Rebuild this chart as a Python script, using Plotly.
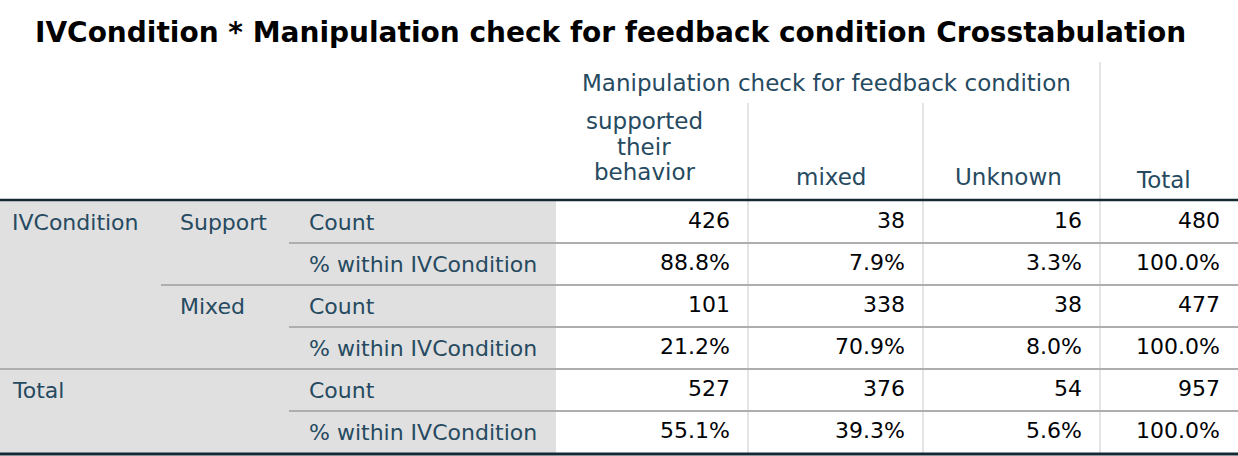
import plotly.graph_objects as go

# table content
title = "IVCondition * Manipulation check for feedback condition Crosstabulation"
col_group = "Manipulation check for feedback condition"
col_names = ["supported<br>their<br>behavior", "mixed", "Unknown", "Total"]
row_groups = ["IVCondition", "Total"]
row_levels = ["Support", "Mixed"]
stat_names = ["Count", "% within IVCondition"]

support_count = [426, 38, 16, 480]
support_pct = [88.8, 7.9, 3.3, 100.0]
mixed_count = [101, 338, 38, 477]
mixed_pct = [21.2, 70.9, 8.0, 100.0]
total_count = [527, 376, 54, 957]
total_pct = [55.1, 39.3, 5.6, 100.0]

W, H = 1238, 456
TXT = "#264a60"
DARK = "#152935"
GRID = "#aeaeae"
VLINE = "#dcdcdc"
FONT = "DejaVu Sans"
FS = 22
HFS = 23

# geometry (pixel coords, y down)
col_edges = [556, 748, 923, 1100, 1238]
row_top = 201
row_h = 42

fig = go.Figure()

shapes = []
# grey label block
shapes.append(dict(type="rect", x0=0, x1=col_edges[0], y0=row_top, y1=row_top + 6 * row_h,
                   fillcolor="#e0e0e0", line=dict(width=0), layer="below"))
# vertical lines in data area / header
for x in col_edges[1:-1]:
    y0 = 62 if x == col_edges[3] else 103
    shapes.append(dict(type="line", x0=x, x1=x, y0=y0, y1=row_top + 6 * row_h,
                       line=dict(color=VLINE, width=1.5), layer="below"))
# horizontal separators
seps = [row_top + k * row_h for k in range(1, 6)]
starts = [289, 161, 289, 0, 289]
for y, x0 in zip(seps, starts):
    shapes.append(dict(type="line", x0=x0, x1=W, y0=y, y1=y,
                       line=dict(color=GRID, width=2)))
# thick lines
shapes.append(dict(type="line", x0=0, x1=W, y0=row_top - 1, y1=row_top - 1,
                   line=dict(color=DARK, width=2.5)))
shapes.append(dict(type="line", x0=0, x1=W, y0=H - 2, y1=H - 2,
                   line=dict(color=DARK, width=3)))

ann = []
ann.append(dict(x=610, y=32, text="<b>" + title + "</b>", showarrow=False,
                font=dict(family=FONT, size=28, color="#000000"), xanchor="center", yanchor="middle"))
ann.append(dict(x=580, y=83, text=col_group, showarrow=False,
                font=dict(family=FONT, size=HFS, color=TXT), xanchor="left", yanchor="middle"))
head_x = [644, 831, 1008, 1163]
head_y = [172, 177, 177, 180]
for x, yb, name in zip(head_x, head_y, col_names):
    parts = name.split("<br>")
    for i, part in enumerate(parts):
        ann.append(dict(x=x, y=yb - (len(parts) - 1 - i) * 25.5, text=part, showarrow=False,
                        font=dict(family=FONT, size=HFS, color=TXT),
                        xanchor="center", yanchor="middle"))

def row_y(k):
    return row_top + k * row_h + row_h / 2

ann.append(dict(x=10, y=row_y(0), text=row_groups[0], showarrow=False,
                font=dict(family=FONT, size=FS, color=TXT), xanchor="left", yanchor="middle"))
ann.append(dict(x=10, y=row_y(4), text=row_groups[1], showarrow=False,
                font=dict(family=FONT, size=FS, color=TXT), xanchor="left", yanchor="middle"))
for j, lev in enumerate(row_levels):
    ann.append(dict(x=178, y=row_y(2 * j), text=lev, showarrow=False,
                    font=dict(family=FONT, size=FS, color=TXT), xanchor="left", yanchor="middle"))
for k in range(6):
    ann.append(dict(x=307, y=row_y(k), text=stat_names[k % 2], showarrow=False,
                    font=dict(family=FONT, size=FS, color=TXT), xanchor="left", yanchor="middle"))

# values as a text trace
rows = [support_count, support_pct, mixed_count, mixed_pct, total_count, total_pct]
xs, ys, txt = [], [], []
for k, vals in enumerate(rows):
    for c, v in enumerate(vals):
        xs.append(col_edges[c + 1] - 18)
        ys.append(row_y(k))
        txt.append(f"{v}" if k % 2 == 0 else f"{v:.1f}%")

fig.add_trace(go.Scatter(x=xs, y=ys, text=txt, mode="text", textposition="middle left",
                         textfont=dict(family=FONT, size=FS, color="#010205"),
                         hoverinfo="skip", showlegend=False))

fig.update_layout(
    width=W, height=H,
    margin=dict(l=0, r=0, t=0, b=0),
    paper_bgcolor="white", plot_bgcolor="white",
    xaxis=dict(range=[0, W], visible=False, fixedrange=True),
    yaxis=dict(range=[H, 0], visible=False, fixedrange=True),
    shapes=shapes, annotations=ann,
)

# drop the browser's default body margin so the table sits at the page corner
fig.write_html("out.html", config={"displayModeBar": False},
               post_script="document.body.style.margin='0px';document.body.style.overflow='hidden';")
